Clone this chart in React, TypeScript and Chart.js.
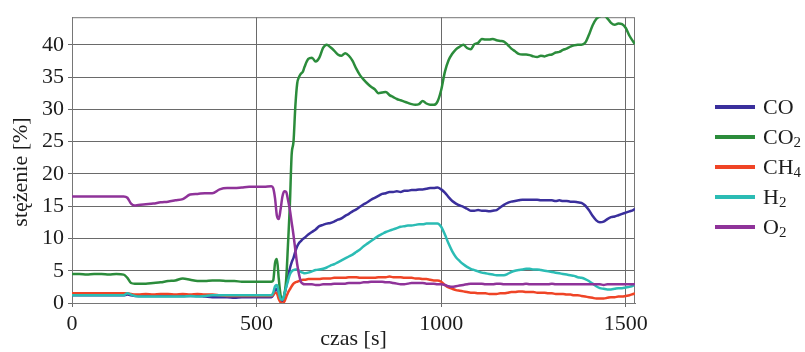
import React, { useEffect, useRef } from "react";
import { Chart, registerables } from "chart.js";

Chart.register(...registerables);

// time axis [s]
const times = [
  0, 20, 40, 60, 80, 100, 120, 140, 150, 160, 170, 180,
  200, 220, 240, 260, 280, 300, 320, 340, 360, 380, 400, 420, 440, 460, 480, 500, 520, 540,
  545, 550, 555, 560, 565, 570, 575, 580, 585, 590, 595, 600, 605, 610, 615, 620, 625, 630,
  640, 650, 660, 670, 680, 690, 700, 710, 720, 730,
  740, 750, 760, 770, 780, 790, 800, 810, 820, 830,
  840, 850, 860, 870, 880, 890, 900, 910, 920, 930,
  940, 950, 960, 970, 980, 990, 1000,
  1010, 1020, 1030, 1040, 1050, 1060, 1070, 1080, 1090, 1100,
  1110, 1120, 1130, 1140, 1150, 1160, 1170, 1180, 1190, 1200,
  1210, 1220, 1230, 1240, 1250, 1260, 1270, 1280, 1290, 1300,
  1310, 1320, 1330, 1340, 1350, 1360, 1370, 1380, 1390, 1400,
  1410, 1420, 1430, 1440, 1450, 1460, 1470, 1480, 1490, 1500,
  1510, 1520, 1525,
];

// gas concentrations [%]
const coValues = [
  1.2, 1.2, 1.2, 1.2, 1.2, 1.2, 1.2, 1.2, 1.3, 1.2, 1.1, 1.1,
  1.1, 1.1, 1.1, 1.1, 1.1, 1.1, 1.1, 1.1, 1.0, 0.9, 0.9, 0.9, 0.8, 0.9, 0.9, 0.9, 0.9, 0.9,
  1.2, 2.0, 2.2, 1.0, 0.3, 0.3, 1.2, 2.5, 4.0, 5.3, 6.3, 7.0, 8.0, 8.8, 9.3, 9.6, 9.9, 10.1,
  10.6, 11.0, 11.4, 11.9, 12.1, 12.3, 12.4, 12.6, 12.9, 13.1,
  13.5, 13.8, 14.2, 14.5, 14.9, 15.3, 15.6, 16.0, 16.3, 16.6,
  16.9, 17.0, 17.2, 17.2, 17.3, 17.2, 17.4, 17.4, 17.5, 17.5,
  17.6, 17.6, 17.7, 17.8, 17.8, 17.9, 17.6,
  17.1, 16.4, 15.8, 15.4, 15.1, 14.9, 14.6, 14.3, 14.3, 14.4,
  14.3, 14.3, 14.2, 14.3, 14.4, 14.8, 15.2, 15.5, 15.7, 15.8,
  15.9, 16.0, 16.0, 16.0, 16.0, 16.0, 15.9, 15.9, 15.9, 15.9,
  15.8, 15.9, 15.8, 15.8, 15.7, 15.7, 15.6, 15.5, 15.1, 14.4,
  13.5, 12.8, 12.5, 12.6, 13.0, 13.3, 13.4, 13.6, 13.8, 14.0,
  14.2, 14.4, 14.6,
];

const co2Values = [
  4.5, 4.5, 4.4, 4.5, 4.5, 4.4, 4.5, 4.4, 3.9, 3.1, 3.0, 3.0,
  3.0, 3.1, 3.2, 3.4, 3.5, 3.8, 3.6, 3.4, 3.4, 3.5, 3.5, 3.4, 3.4, 3.3, 3.3, 3.3, 3.3, 3.3,
  3.5, 6.2, 6.8, 3.8, 1.2, 0.6, 1.2, 3.5, 9.0, 15.0, 23.0, 25.0, 30.5, 34.0, 35.0, 35.5, 35.8, 36.6,
  37.8, 38.0, 37.4, 38.0, 39.5, 40.0, 39.6, 39.1, 38.5, 38.3,
  38.7, 38.3, 37.5, 36.3, 35.3, 34.6, 34.0, 33.5, 33.1, 32.5,
  32.6, 32.7, 32.2, 31.9, 31.6, 31.4, 31.2, 31.0, 30.8, 30.7,
  30.8, 31.3, 30.9, 30.7, 30.7, 31.2, 33.0,
  35.8, 37.6, 38.6, 39.3, 39.7, 40.0, 39.5, 39.3, 40.1, 40.3,
  40.9, 40.8, 40.8, 40.9, 40.7, 40.6, 40.5, 40.0, 39.4, 39.0,
  38.6, 38.5, 38.5, 38.4, 38.2, 38.1, 38.3, 38.2, 38.4, 38.5,
  38.8, 38.9, 39.2, 39.4, 39.7, 39.9, 40.0, 40.0, 40.3, 41.5,
  43.0, 44.0, 44.4, 44.6, 44.1, 43.4, 43.1, 43.3, 43.2, 42.6,
  41.4, 40.5, 40.1,
];

const ch4Values = [
  1.5, 1.5, 1.5, 1.5, 1.5, 1.5, 1.5, 1.5, 1.5, 1.4, 1.3, 1.3,
  1.4, 1.3, 1.4, 1.4, 1.3, 1.4, 1.3, 1.4, 1.3, 1.3, 1.2, 1.1, 1.1, 1.1, 1.1, 1.1, 1.1, 1.1,
  1.3, 1.6, 1.5, 0.6, 0.1, -0.1, 0.2, 0.9, 1.6, 2.1, 2.6, 3.0, 3.2, 3.3, 3.4, 3.5, 3.6, 3.6,
  3.7, 3.7, 3.7, 3.7, 3.8, 3.8, 3.8, 3.9, 3.9, 3.9,
  3.9, 4.0, 4.0, 4.0, 3.9, 3.9, 3.9, 3.9, 3.9, 4.0,
  4.0, 4.0, 4.1, 4.0, 4.0, 4.0, 3.9, 3.9, 3.9, 3.8,
  3.8, 3.7, 3.7, 3.6, 3.5, 3.5, 3.3,
  2.8, 2.4, 2.2, 2.0, 1.9, 1.8, 1.7, 1.6, 1.6, 1.5,
  1.5, 1.5, 1.4, 1.4, 1.4, 1.5, 1.5, 1.6, 1.7, 1.7,
  1.8, 1.8, 1.7, 1.7, 1.7, 1.6, 1.6, 1.6, 1.5, 1.5,
  1.4, 1.4, 1.4, 1.3, 1.3, 1.2, 1.2, 1.1, 1.0, 0.9,
  0.8, 0.7, 0.7, 0.7, 0.8, 0.9, 0.9, 1.0, 1.0, 1.1,
  1.2, 1.4, 1.5,
];

const h2Values = [
  1.2, 1.2, 1.2, 1.2, 1.2, 1.2, 1.2, 1.2, 1.5, 1.3, 1.1, 1.0,
  1.0, 1.0, 1.0, 1.0, 1.0, 1.0, 1.1, 1.0, 1.1, 1.2, 1.2, 1.2, 1.2, 1.2, 1.2, 1.2, 1.2, 1.2,
  1.6, 2.6, 2.8, 1.6, 0.6, 0.5, 1.3, 2.4, 3.4, 4.4, 4.9, 5.1, 5.2, 5.2, 5.0, 4.8, 4.7, 4.6,
  4.7, 4.9, 5.1, 5.2, 5.3, 5.5, 5.8, 6.0, 6.3, 6.6,
  6.9, 7.2, 7.5, 7.9, 8.3, 8.8, 9.2, 9.6, 10.0, 10.4,
  10.7, 11.0, 11.2, 11.4, 11.6, 11.8, 11.9, 12.0, 12.0, 12.1,
  12.2, 12.2, 12.3, 12.3, 12.3, 12.3, 11.8,
  10.6, 9.2, 8.0, 7.1, 6.5, 6.0, 5.6, 5.3, 5.1, 4.9,
  4.7, 4.6, 4.5, 4.4, 4.3, 4.3, 4.3, 4.5, 4.8, 5.0,
  5.1, 5.2, 5.3, 5.3, 5.2, 5.2, 5.1, 5.0, 4.9, 4.8,
  4.7, 4.6, 4.5, 4.4, 4.3, 4.2, 4.0, 3.9, 3.7, 3.4,
  3.0, 2.6, 2.3, 2.2, 2.1, 2.1, 2.2, 2.3, 2.3, 2.4,
  2.5, 2.7, 2.9,
];

const o2Values = [
  16.5, 16.5, 16.5, 16.5, 16.5, 16.5, 16.5, 16.5, 16.3, 15.4, 15.1, 15.2,
  15.3, 15.4, 15.6, 15.7, 15.9, 16.1, 16.8, 16.9, 17.0, 17.0, 17.6, 17.8, 17.8, 17.9, 18.0, 18.0, 18.0, 18.1,
  17.8, 16.2, 13.5, 13.0, 14.5, 16.5, 17.3, 17.2, 16.0, 14.5, 12.5, 10.5, 8.2, 6.0, 4.4, 3.3, 3.0, 2.9,
  2.9, 2.9, 2.8, 2.8, 2.9, 2.9, 2.9, 3.0, 3.0, 3.0,
  3.0, 3.1, 3.1, 3.1, 3.1, 3.2, 3.2, 3.3, 3.3, 3.3,
  3.3, 3.2, 3.2, 3.1, 3.0, 2.9, 2.9, 3.0, 3.1, 3.1,
  3.1, 3.1, 3.0, 3.0, 3.0, 2.9, 2.9,
  2.8, 2.6, 2.5, 2.6, 2.7, 2.8, 2.9, 3.0, 3.0, 3.0,
  3.0, 2.9, 2.9, 2.9, 3.0, 3.0, 2.9, 2.9, 2.9, 2.9,
  2.9, 2.9, 3.0, 2.9, 2.9, 2.9, 2.9, 2.9, 2.9, 3.0,
  2.9, 2.9, 2.9, 2.9, 2.9, 2.9, 2.9, 2.9, 2.9, 2.9,
  2.9, 2.9, 2.9, 2.8, 2.9, 2.9, 2.9, 2.9, 2.9, 2.9,
  2.9, 2.9, 2.9,
];

const seriesNames = ["CO", "CO₂", "CH₄", "H₂", "O₂"];
const seriesValues = [coValues, co2Values, ch4Values, h2Values, o2Values];
const seriesColors = ["#3a2f9c", "#2b8c3b", "#ef4426", "#2bbcb4", "#8f3399"];

const xTickValues = [0, 500, 1000, 1500];
const yTickValues = [0, 5, 10, 15, 20, 25, 30, 35, 40];

const xTitle = "czas [s]";
const yTitle = "stężenie [%]";

const FONT = "'Liberation Serif', 'DejaVu Serif', serif";
const TEXT = "#1c1c1c";
const SUBS: Record<string, string> = { "₀": "0", "₁": "1", "₂": "2", "₃": "3", "₄": "4" };

// draws a chemical formula, rendering subscript digits smaller and lowered
function drawFormula(ctx: CanvasRenderingContext2D, text: string, x: number, y: number) {
  let cx = x;
  for (const ch of text) {
    const sub = SUBS[ch];
    if (sub) {
      ctx.font = `15px ${FONT}`;
      ctx.fillText(sub, cx, y + 5);
      cx += ctx.measureText(sub).width;
    } else {
      ctx.font = `22px ${FONT}`;
      ctx.fillText(ch, cx, y);
      cx += ctx.measureText(ch).width;
    }
  }
}

const decorPlugin = {
  id: "decor",
  beforeDatasetsDraw(chart: any) {
    const { ctx, chartArea: a } = chart;
    ctx.save();
    ctx.strokeStyle = "#767676";
    ctx.lineWidth = 1;
    ctx.strokeRect(a.left + 0.5, a.top + 0.5, a.right - a.left - 1, a.bottom - a.top);
    ctx.restore();
  },
  afterDraw(chart: any) {
    const { ctx, chartArea: a } = chart;
    ctx.save();
    ctx.fillStyle = TEXT;
    ctx.font = `22px ${FONT}`;
    ctx.textAlign = "center";
    ctx.textBaseline = "alphabetic";
    ctx.fillText(xTitle, (a.left + a.right) / 2, 345);

    ctx.save();
    ctx.translate(27, 172);
    ctx.rotate(-Math.PI / 2);
    ctx.fillText(yTitle, 0, 0);
    ctx.restore();

    // legend
    ctx.textAlign = "left";
    ctx.textBaseline = "middle";
    seriesNames.forEach((name, i) => {
      const y = 107 + i * 30;
      ctx.strokeStyle = seriesColors[i];
      ctx.lineWidth = 4;
      ctx.beginPath();
      ctx.moveTo(715, y);
      ctx.lineTo(755, y);
      ctx.stroke();
      ctx.fillStyle = TEXT;
      drawFormula(ctx, name, 763, y + 1);
    });
    ctx.restore();
  },
};

export default function App() {
  const canvasRef = useRef<HTMLCanvasElement | null>(null);

  useEffect(() => {
    document.body.style.margin = "0";
    const canvas = canvasRef.current;
    if (!canvas) return;

    const datasets = seriesNames.map((name, i) => ({
      label: name,
      data: times.map((t, j) => ({ x: t, y: seriesValues[i][j] })),
      borderColor: seriesColors[i],
      backgroundColor: seriesColors[i],
      borderWidth: 2.5,
      pointRadius: 0,
      cubicInterpolationMode: "monotone" as const,
      clip: 0,
      order: seriesNames.length - i,
    }));

    const chart = new Chart(canvas, {
      type: "line",
      data: { datasets },
      plugins: [decorPlugin],
      options: {
        animation: false,
        responsive: false,
        devicePixelRatio: 1,
        layout: { padding: { top: 13, right: 170, bottom: 0, left: 0 } },
        plugins: { legend: { display: false }, tooltip: { enabled: false } },
        scales: {
          x: {
            type: "linear",
            min: 0,
            max: 1525,
            afterBuildTicks: (s: any) => {
              s.ticks = xTickValues.map((v) => ({ value: v }));
            },
            afterFit: (s: any) => {
              s.height = 49;
            },
            ticks: {
              autoSkip: false,
              maxRotation: 0,
              padding: 4,
              color: TEXT,
              font: { family: FONT, size: 22 },
              callback: (v: any) => String(v),
            },
            grid: { color: "#6a6a6a", lineWidth: 1, tickLength: 4 },
            border: { color: "#767676" },
          },
          y: {
            type: "linear",
            min: 0,
            max: 44.27,
            afterBuildTicks: (s: any) => {
              s.ticks = yTickValues.map((v) => ({ value: v }));
            },
            afterFit: (s: any) => {
              s.width = 72;
            },
            ticks: {
              autoSkip: false,
              padding: 4,
              color: TEXT,
              font: { family: FONT, size: 22 },
              callback: (v: any) => String(v),
            },
            grid: { color: "#6a6a6a", lineWidth: 1, tickLength: 4 },
            border: { color: "#767676" },
          },
        },
      },
    });

    return () => chart.destroy();
  }, []);

  return (
    <canvas
      ref={canvasRef}
      width={805}
      height={352}
      style={{ display: "block", width: 805, height: 352 }}
    />
  );
}
